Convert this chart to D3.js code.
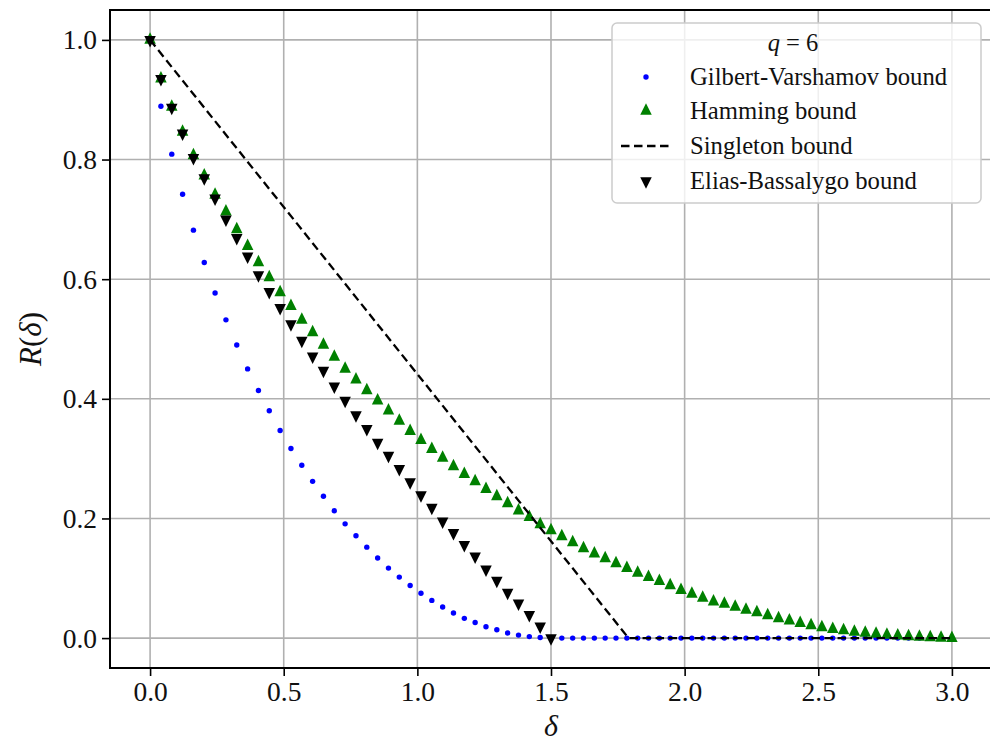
<!DOCTYPE html>
<html>
<head>
<meta charset="utf-8">
<script src="https://cdn.jsdelivr.net/npm/d3@7"></script>
<style>
  html, body { margin: 0; padding: 0; background: #fff; }
  svg { display: block; }
  text { font-family: "Liberation Serif", "DejaVu Serif", serif; fill: #111; }
</style>
</head>
<body>
<svg id="chart" width="990" height="747"></svg>
<script>
// Relative distance grid shared by every bound
const deltas = [
  0, 0.0405, 0.0811, 0.1216, 0.1622, 0.2027, 0.2432, 0.2838, 0.3243, 0.3649,
  0.4054, 0.4459, 0.4865, 0.5270, 0.5676, 0.6081, 0.6486, 0.6892, 0.7297, 0.7703,
  0.8108, 0.8514, 0.8919, 0.9324, 0.9730, 1.0135, 1.0541, 1.0946, 1.1351, 1.1757,
  1.2162, 1.2568, 1.2973, 1.3378, 1.3784, 1.4189, 1.4595, 1.5000, 1.5405, 1.5811,
  1.6216, 1.6622, 1.7027, 1.7432, 1.7838, 1.8243, 1.8649, 1.9054, 1.9459, 1.9865,
  2.0270, 2.0676, 2.1081, 2.1486, 2.1892, 2.2297, 2.2703, 2.3108, 2.3514, 2.3919,
  2.4324, 2.4730, 2.5135, 2.5541, 2.5946, 2.6351, 2.6757, 2.7162, 2.7568, 2.7973,
  2.8378, 2.8784, 2.9189, 2.9595, 3.0000
];

// Gilbert-Varshamov bound (lower bound on the rate)
const gilbertVarshamov = [
  1.000, 0.889, 0.809, 0.742, 0.682, 0.628, 0.577, 0.532, 0.490, 0.450,
  0.414, 0.380, 0.347, 0.317, 0.289, 0.262, 0.237, 0.213, 0.191, 0.171,
  0.152, 0.134, 0.117, 0.102, 0.088, 0.075, 0.063, 0.052, 0.042, 0.033,
  0.026, 0.019, 0.014, 0.0085, 0.005, 0.0025, 0.001, 0.000, 0, 0,
  0, 0, 0, 0, 0, 0, 0, 0, 0, 0,
  0, 0, 0, 0, 0, 0, 0, 0, 0, 0,
  0, 0, 0, 0, 0, 0, 0, 0, 0, 0,
  0, 0, 0, 0, 0
];

// Hamming (sphere-packing) bound
const hamming = [
  1.000, 0.935, 0.888, 0.846, 0.807, 0.773, 0.741, 0.713, 0.683, 0.655,
  0.628, 0.603, 0.578, 0.555, 0.532, 0.511, 0.490, 0.470, 0.450, 0.432,
  0.414, 0.397, 0.380, 0.363, 0.346, 0.331, 0.316, 0.301, 0.287, 0.274,
  0.262, 0.249, 0.237, 0.225, 0.213, 0.202, 0.190, 0.180, 0.170, 0.160,
  0.150, 0.141, 0.133, 0.125, 0.117, 0.109, 0.102, 0.095, 0.088, 0.080,
  0.074, 0.067, 0.061, 0.057, 0.052, 0.047, 0.043, 0.038, 0.033, 0.029,
  0.025, 0.021, 0.018, 0.015, 0.013, 0.0105, 0.0085, 0.0068, 0.0052, 0.004,
  0.0028, 0.0018, 0.001, 0.0004, 0.000
];

// Elias-Bassalygo bound, defined up to delta = 1.5
const eliasBassalygo = [
  1.000, 0.935, 0.887, 0.844, 0.803, 0.769, 0.735, 0.700, 0.669, 0.638,
  0.607, 0.579, 0.552, 0.525, 0.4975, 0.471, 0.447, 0.421, 0.397, 0.373,
  0.350, 0.327, 0.305, 0.283, 0.261, 0.239, 0.218, 0.195, 0.176, 0.156,
  0.1365, 0.115, 0.096, 0.076, 0.058, 0.039, 0.0196, 0.000
];

// Singleton bound: straight line down to zero, then flat
const singletonDelta = [0, 1.79, 3.0];
const singletonRate = [1, 0, 0];

const xTicks = [0, 0.5, 1.0, 1.5, 2.0, 2.5, 3.0];
const yTicks = [0, 0.2, 0.4, 0.6, 0.8, 1.0];

const legendTitle = ["q", " = 6"];
const legendLabels = ["Gilbert-Varshamov bound", "Hamming bound", "Singleton bound", "Elias-Bassalygo bound"];

// ---- layout ----
const svg = d3.select("#chart");
const plot = { left: 110, right: 992, top: 10, bottom: 668 };

const x = d3.scaleLinear().domain([-0.15, 3.15]).range([plot.left, plot.right]);
const y = d3.scaleLinear().domain([-0.05, 1.05]).range([plot.bottom, plot.top]);

const BLUE = "#0000ff", GREEN = "#008000", BLACK = "#000000";

svg.append("defs").append("clipPath").attr("id", "clip")
  .append("rect")
  .attr("x", plot.left).attr("y", plot.top)
  .attr("width", plot.right - plot.left).attr("height", plot.bottom - plot.top);

// grid
const grid = svg.append("g");
grid.selectAll("line.gx").data(xTicks).join("line")
  .attr("x1", d => x(d)).attr("x2", d => x(d))
  .attr("y1", plot.top).attr("y2", plot.bottom)
  .attr("stroke", "#b0b0b0").attr("stroke-width", 1.6);
grid.selectAll("line.gy").data(yTicks).join("line")
  .attr("x1", plot.left).attr("x2", plot.right)
  .attr("y1", d => y(d)).attr("y2", d => y(d))
  .attr("stroke", "#b0b0b0").attr("stroke-width", 1.6);

const marks = svg.append("g").attr("clip-path", "url(#clip)");

// triangle paths centred on their centroid, width = height = s
function triUp(s) {
  return `M0,${-2 * s / 3}L${s / 2},${s / 3}L${-s / 2},${s / 3}Z`;
}
function triDown(s) {
  return `M0,${2 * s / 3}L${s / 2},${-s / 3}L${-s / 2},${-s / 3}Z`;
}
const TRI = 11.5;
const DOT = 2.7;

// Gilbert-Varshamov dots
marks.append("g").selectAll("circle").data(gilbertVarshamov).join("circle")
  .attr("cx", (d, i) => x(deltas[i])).attr("cy", d => y(d))
  .attr("r", DOT).attr("fill", BLUE);

// Hamming triangles
marks.append("g").selectAll("path").data(hamming).join("path")
  .attr("transform", (d, i) => `translate(${x(deltas[i])},${y(d)})`)
  .attr("d", triUp(TRI)).attr("fill", GREEN);

// Singleton dashed line
const line = d3.line().x(d => x(d[0])).y(d => y(d[1]));
marks.append("path")
  .datum(singletonDelta.map((d, i) => [d, singletonRate[i]]))
  .attr("d", line)
  .attr("fill", "none").attr("stroke", BLACK)
  .attr("stroke-width", 2.3).attr("stroke-dasharray", "8.5,4.5");

// Elias-Bassalygo triangles
marks.append("g").selectAll("path").data(eliasBassalygo).join("path")
  .attr("transform", (d, i) => `translate(${x(deltas[i])},${y(d)})`)
  .attr("d", triDown(TRI)).attr("fill", BLACK);

// axes
const xAxis = d3.axisBottom(x).tickValues(xTicks).tickFormat(d3.format(".1f")).tickSize(8).tickSizeOuter(0);
const yAxis = d3.axisLeft(y).tickValues(yTicks).tickFormat(d3.format(".1f")).tickSize(8).tickSizeOuter(0);

const gx = svg.append("g").attr("transform", `translate(0,${plot.bottom})`).call(xAxis);
const gy = svg.append("g").attr("transform", `translate(${plot.left},0)`).call(yAxis);
[gx, gy].forEach(g => {
  g.select(".domain").remove();
  g.selectAll(".tick line").attr("stroke", BLACK).attr("stroke-width", 1.6);
  g.selectAll(".tick text").attr("font-family", "Liberation Serif").attr("font-size", 27.5).attr("fill", "#111");
});
gx.selectAll(".tick text").attr("dy", null).attr("y", 33);
gy.selectAll(".tick text").attr("x", -13).attr("dy", "0.33em");

// spines
svg.append("rect")
  .attr("x", plot.left).attr("y", plot.top)
  .attr("width", plot.right - plot.left).attr("height", plot.bottom - plot.top)
  .attr("fill", "none").attr("stroke", BLACK).attr("stroke-width", 2);

// axis labels
svg.append("text")
  .attr("x", x(1.5)).attr("y", 736)
  .attr("text-anchor", "middle").attr("font-size", 30).attr("font-style", "italic")
  .text("δ");

const yl = svg.append("text")
  .attr("transform", `translate(41,${(plot.top + plot.bottom) / 2}) rotate(-90)`)
  .attr("text-anchor", "middle").attr("font-size", 31);
yl.append("tspan").attr("font-style", "italic").text("R");
yl.append("tspan").text("(");
yl.append("tspan").attr("font-style", "italic").text("δ");
yl.append("tspan").text(")");

// legend
const lg = svg.append("g");
lg.append("rect")
  .attr("x", 612).attr("y", 23).attr("width", 369).attr("height", 180)
  .attr("rx", 5).attr("ry", 5)
  .attr("fill", "#ffffff").attr("fill-opacity", 0.8)
  .attr("stroke", "#cccccc").attr("stroke-width", 1.5);

const title = lg.append("text").attr("x", 793).attr("y", 51)
  .attr("text-anchor", "middle").attr("font-size", 24.5)
  .attr("xml:space", "preserve");
title.append("tspan").attr("font-style", "italic").text(legendTitle[0]);
title.append("tspan").text(legendTitle[1]);

const rowY = [77, 111, 146, 181];
const handleX = 646;
legendLabels.forEach((lab, i) => {
  lg.append("text").attr("x", 690).attr("y", rowY[i] + 8)
    .attr("font-size", 24.7).text(lab);
});
lg.append("circle").attr("cx", handleX).attr("cy", rowY[0]).attr("r", DOT).attr("fill", BLUE);
lg.append("path").attr("transform", `translate(${handleX},${rowY[1]})`).attr("d", triUp(TRI)).attr("fill", GREEN);
lg.append("line").attr("x1", 621).attr("x2", 670).attr("y1", rowY[2]).attr("y2", rowY[2])
  .attr("stroke", BLACK).attr("stroke-width", 2.3).attr("stroke-dasharray", "8.5,4.5");
lg.append("path").attr("transform", `translate(${handleX},${rowY[3]})`).attr("d", triDown(TRI)).attr("fill", BLACK);
</script>
</body>
</html>
